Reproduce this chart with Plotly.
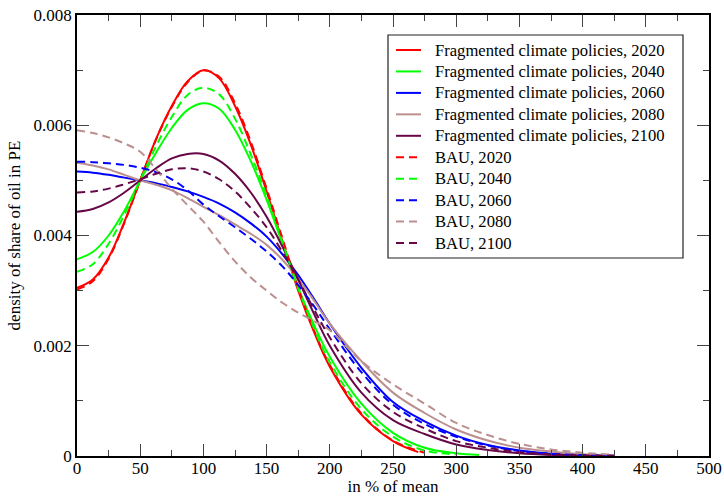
import plotly.graph_objects as go

# ---- data (density values in units of 1e-3) ----
x_red = [0, 12.5, 25, 37.5, 50, 62.5, 75, 87.5, 100, 112.5, 125, 137.5, 150, 162.5, 175, 187.5, 200, 225, 250, 270]
fcp_2020 = [3.05, 3.2, 3.6, 4.25, 5.0, 5.75, 6.35, 6.8, 7.0, 6.85, 6.35, 5.65, 4.8, 3.9, 3.0, 2.25, 1.62, 0.75, 0.27, 0.07]
x_red_b = [0, 12.5, 25, 37.5, 50, 62.5, 75, 87.5, 100, 112.5, 125, 137.5, 150, 162.5, 175, 187.5, 200, 225, 250, 275]
bau_2020 = [3.02, 3.17, 3.58, 4.23, 5.0, 5.74, 6.33, 6.78, 6.99, 6.88, 6.4, 5.7, 4.85, 3.95, 3.05, 2.28, 1.65, 0.77, 0.28, 0.06]

x_grn = [0, 12.5, 25, 37.5, 50, 62.5, 75, 87.5, 100, 112.5, 125, 137.5, 150, 162.5, 175, 187.5, 200, 225, 250, 275, 300, 318]
fcp_2040 = [3.57, 3.7, 4.0, 4.45, 5.0, 5.5, 5.95, 6.28, 6.4, 6.3, 5.92, 5.35, 4.65, 3.85, 3.05, 2.38, 1.8, 0.95, 0.42, 0.15, 0.05, 0.02]
x_grn_b = [0, 12.5, 25, 37.5, 50, 62.5, 75, 87.5, 100, 112.5, 125, 137.5, 150, 162.5, 175, 187.5, 200, 225, 250, 275, 300]
bau_2040 = [3.34, 3.48, 3.85, 4.38, 5.0, 5.62, 6.15, 6.55, 6.68, 6.56, 6.12, 5.47, 4.72, 3.88, 3.05, 2.32, 1.7, 0.85, 0.35, 0.1, 0.03]

x_long = [0, 12.5, 25, 37.5, 50, 62.5, 75, 87.5, 100, 112.5, 125, 137.5, 150, 162.5, 175, 187.5, 200,
          225, 250, 275, 300, 325, 350, 375, 400, 425]
fcp_2060 = [5.16, 5.14, 5.1, 5.05, 5.0, 4.95, 4.88, 4.8, 4.7, 4.58, 4.42, 4.22, 3.98, 3.66, 3.28, 2.85, 2.4,
            1.6, 0.98, 0.63, 0.37, 0.2, 0.1, 0.04, 0.015, 0.005]
bau_2060 = [5.34, 5.33, 5.31, 5.28, 5.23, 5.15, 5.02, 4.82, 4.56, 4.35, 4.15, 3.94, 3.71, 3.44, 3.1, 2.72, 2.3,
            1.52, 0.93, 0.58, 0.35, 0.19, 0.09, 0.04, 0.015, 0.005]
fcp_2080 = [5.32, 5.27, 5.2, 5.1, 5.0, 4.92, 4.82, 4.68, 4.52, 4.37, 4.2, 4.03, 3.83, 3.56, 3.22, 2.82, 2.4,
            1.72, 1.15, 0.78, 0.48, 0.28, 0.15, 0.08, 0.03, 0.01]
bau_2080 = [5.91, 5.86, 5.78, 5.67, 5.52, 5.2, 4.85, 4.55, 4.25, 3.88, 3.53, 3.24, 3.0, 2.78, 2.6, 2.45, 2.28,
            1.72, 1.3, 0.95, 0.6, 0.38, 0.22, 0.12, 0.06, 0.02]
fcp_2100 = [4.43, 4.48, 4.6, 4.78, 5.0, 5.22, 5.4, 5.48, 5.48, 5.36, 5.12, 4.78, 4.34, 3.8, 3.2, 2.58, 2.0,
            1.15, 0.65, 0.4, 0.21, 0.11, 0.05, 0.02, 0.005, 0.002]
bau_2100 = [4.78, 4.8, 4.85, 4.93, 5.02, 5.12, 5.2, 5.22, 5.16, 5.02, 4.8, 4.5, 4.15, 3.7, 3.2, 2.66, 2.15,
            1.32, 0.8, 0.5, 0.27, 0.15, 0.07, 0.03, 0.01, 0.003]

x_ticks = [0, 50, 100, 150, 200, 250, 300, 350, 400, 450, 500]
y_ticks = [0, 0.002, 0.004, 0.006, 0.008]
y_tick_labels = ["0", "0.002", "0.004", "0.006", "0.008"]

RED = "#ff0000"
GREEN = "#00ff00"
BLUE = "#0000ff"
BROWN = "rgb(188,143,143)"
MAROON = "rgb(103,7,72)"
DASH = "8px,5px"

series = [
    ("Fragmented climate policies, 2020", x_red, fcp_2020, RED, "solid"),
    ("Fragmented climate policies, 2040", x_grn, fcp_2040, GREEN, "solid"),
    ("Fragmented climate policies, 2060", x_long, fcp_2060, BLUE, "solid"),
    ("Fragmented climate policies, 2080", x_long, fcp_2080, BROWN, "solid"),
    ("Fragmented climate policies, 2100", x_long, fcp_2100, MAROON, "solid"),
    ("BAU, 2020", x_red_b, bau_2020, RED, DASH),
    ("BAU, 2040", x_grn_b, bau_2040, GREEN, DASH),
    ("BAU, 2060", x_long, bau_2060, BLUE, DASH),
    ("BAU, 2080", x_long, bau_2080, BROWN, DASH),
    ("BAU, 2100", x_long, bau_2100, MAROON, DASH),
]

fig = go.Figure()
for name, xs, ys, col, dash in series:
    fig.add_trace(go.Scatter(
        x=xs, y=[v * 1e-3 for v in ys], name=name, mode="lines",
        line=dict(color=col, width=2, dash=dash, shape="spline", smoothing=1.0),
        showlegend=False,
    ))

FONT = "Liberation Serif"

# ---- hand-built legend box (matches the tight xmgrace legend spacing) ----
# Page body margin is removed by post_script, so the 724x496 figure fills
# the window and the plot area sits at pixels x 77..709, y 15..456.
PL, PR, PT, PB = 77, 709, 15, 456
def px(xp):
    return (xp - PL) / (PR - PL)
def py(yp):
    return (PB - yp) / (PB - PT)

shapes = [dict(type="rect", xref="paper", yref="paper",
               x0=px(388), x1=px(683), y0=py(258), y1=py(35),
               line=dict(color="#222", width=1.2), fillcolor="white", layer="above")]
annotations = []
for i, (name, xs, ys, col, dash) in enumerate(series):
    yc = 50 + 21.45 * i
    shapes.append(dict(type="line", xref="paper", yref="paper",
                       x0=px(396), x1=px(421), y0=py(yc), y1=py(yc),
                       line=dict(color=col, width=2, dash=dash), layer="above"))
    annotations.append(dict(x=px(433), y=py(yc), xref="paper", yref="paper",
                            text=name, showarrow=False, xanchor="left", yanchor="middle",
                            font=dict(family=FONT, size=16.6, color="black")))

fig.update_layout(
    width=724, height=496,
    margin=dict(l=77, r=15, t=15, b=40, autoexpand=False),
    paper_bgcolor="white", plot_bgcolor="white",
    font=dict(family=FONT, size=17, color="black"),
    showlegend=False,
    shapes=shapes,
    annotations=annotations,
)
fig.update_xaxes(
    range=[0, 500], tickvals=x_ticks, ticks="inside", ticklen=12, tickwidth=1,
    tickcolor="#444", showline=True, linecolor="black", linewidth=1.5,
    mirror="allticks", showgrid=False, zeroline=False, automargin=False,
    minor=dict(dtick=25, ticks="inside", ticklen=6, tickcolor="#444", showgrid=False),
    title=dict(text="in % of mean", standoff=4, font=dict(family=FONT, size=17)),
    tickfont=dict(family=FONT, size=17), ticklabelstandoff=-4,
    ticklabeloverflow="allow",
)
fig.update_yaxes(
    range=[0, 0.008], tickvals=y_ticks, ticktext=y_tick_labels, ticks="inside",
    ticklen=12, tickwidth=1, tickcolor="#444", showline=True, linecolor="black",
    linewidth=1.5, mirror="allticks", showgrid=False, zeroline=False, automargin=False,
    minor=dict(dtick=0.001, ticks="inside", ticklen=6, tickcolor="#444", showgrid=False),
    title=dict(text="density of share of oil in PE", standoff=9, font=dict(family=FONT, size=17)),
    tickfont=dict(family=FONT, size=17), ticklabeloverflow="allow",
)

fig.write_html(
    "out.html",
    config={"displayModeBar": False},
    post_script="document.body.style.margin='0';document.body.style.overflow='hidden';",
)
